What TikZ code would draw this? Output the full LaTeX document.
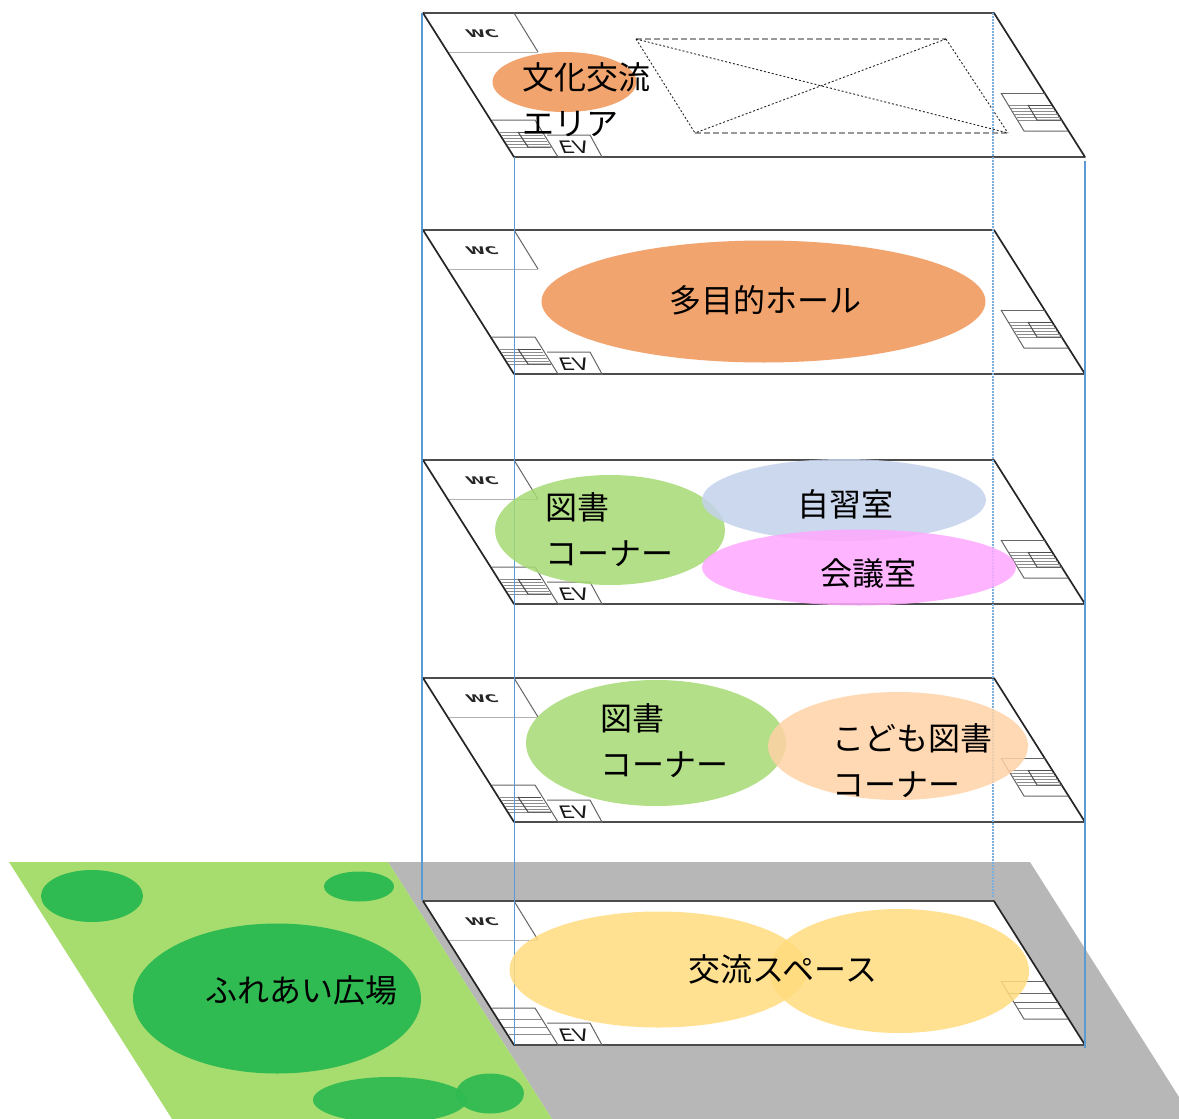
\documentclass[tikz,border=0pt]{standalone}
\usepackage{fontspec}
\setmainfont{Noto Sans CJK JP}
\newfontfamily\latinf{DejaVu Sans}
\definecolor{bluel}{HTML}{5B9BD5}
\definecolor{greyg}{HTML}{B7B7B7}
\definecolor{lawn}{HTML}{A6DD6E}
\definecolor{tree}{HTML}{2FBA52}
\definecolor{orangee}{HTML}{F2A46E}
\definecolor{booke}{HTML}{A5DA72}
\definecolor{studye}{HTML}{C4D2EC}
\definecolor{meete}{HTML}{FFA8FF}
\definecolor{kide}{HTML}{FFD3A6}
\definecolor{yele}{HTML}{FFDC7E}
\tikzset{
  x=1pt,y=-1pt,
  slab/.style={fill=white,draw=none},
  edgeh/.style={draw=black!70,line width=1.4pt},
  edges/.style={draw=black!85,line width=1.7pt,line cap=round},
  thin box/.style={draw=black!60,line width=1pt},
  hatch/.style={draw=black!45,line width=1pt},
  hatchd/.style={draw=black!70,line width=1pt},
  riser/.style={draw=bluel,line width=1.2pt},
  riserd/.style={draw=bluel!80,line width=1.2pt,dash pattern=on 1.5pt off 1.5pt},
  voidh/.style={draw=black!40,line width=1.1pt,dash pattern=on 6pt off 3pt},
  voids/.style={draw=black!85,line width=.9pt,dash pattern=on 2pt off 2pt},
  zone/.style={draw=none,fill=#1,fill opacity=.85},
  zoneo/.style={draw=none,fill=#1},
  label/.style={font=\fontsize{32}{46}\selectfont,text=black,inner sep=0pt,align=left},
  wcl/.style={font=\latinf\bfseries\fontsize{17}{17}\selectfont,inner sep=0pt,xslant=-.55,yscale=.62,text=black!85},
  evl/.style={font=\latinf\fontsize{22}{22}\selectfont,inner sep=0pt,xslant=-.4,yscale=.78,text=black!90},
}
\newcommand{\slabshape}[1]{%
  \begin{scope}[shift={(0,#1)}]
    \fill[slab] (423,0) -- (994,0) -- (1085,144) -- (514,144) -- cycle;
  \end{scope}}
\newcommand{\slabframe}[2]{%
  \begin{scope}[shift={(0,#1)}]
    \draw[edgeh] (423,0) -- (994,0);
    \draw[edgeh] (514,144) -- (1085,144);
    \draw[edges] (423,0) -- (514,144);
    \draw[edges] (994,0) -- (1085,144);
    \draw[thin box] (514,0) -- (538,39);
    \draw[draw=black!30,line width=1pt] (538,39) -- (449,39);
    \node[wcl] (wc#2) at (482,21) {WC};
    \draw[thin box] (492,107) -- (535,107) -- (558,144);
    \draw[thin box] (547,122) -- (590,122) -- (602,144) -- (558,144);
    \node[evl] (ev#2) at (574,134) {EV};
    \draw[thin box] (1001,80) -- (1045,80);
    \draw[thin box] (1001,80) -- (1024,118) -- (1068,118);
  \end{scope}}
\newcommand{\hatches}[1]{%
  \begin{scope}[shift={(0,#1)}]
    \foreach \yy/\xa/\xb in {119/499/541,122/501/543,125/503/545,128/505/547,131/507/549,134/509/551}
      \draw[hatch] (\xa,\yy) -- (\xb,\yy);
    \draw[hatchd] (518,119) -- (528,134) -- (551,134);
    \draw[hatchd] (518,119) -- (541,119);
    \foreach \yy/\xa/\xb in {92/1009/1052,95/1011/1054,98/1013/1056,101/1015/1058,104/1017/1060,107/1018/1062}
      \draw[hatch] (\xa,\yy) -- (\xb,\yy);
    \draw[hatchd] (1028,92) -- (1037,107) -- (1062,107);
    \draw[hatchd] (1028,92) -- (1052,92);
  \end{scope}}
\begin{document}
\begin{tikzpicture}
\useasboundingbox (0,0) rectangle (1179,1119);
% ground
\fill[greyg] (388,862) -- (1030,862) -- (1179,1097) -- (1179,1119) -- (552,1119) -- cycle;
\fill[lawn] (9,862) -- (388,862) -- (552,1119) -- (172,1119) -- cycle;
\begin{scope}
\clip (0,0) rectangle (1179,1119);
\fill[tree] (92,896) ellipse [x radius=51,y radius=26];
\fill[tree] (359,886.5) ellipse [x radius=35,y radius=15];
\fill[tree] (277,998.5) ellipse [x radius=144,y radius=75];
\fill[tree,fill opacity=.93] (390,1100) ellipse [x radius=77,y radius=23];
\fill[tree,fill opacity=.93] (490,1093.5) ellipse [x radius=34,y radius=20];
\end{scope}
% slabs
\slabshape{13}\slabshape{230}\slabshape{460}\slabshape{678}\slabshape{901}
\slabframe{13}{e}\slabframe{230}{d}\slabframe{460}{c}\slabframe{678}{b}\slabframe{901}{a}
\hatches{13}\hatches{230}\hatches{460}\hatches{678}
% ground floor stairs
\draw[hatch] (499,1019) -- (542,1019);
\draw[hatch] (504,1027) -- (547,1027);
\draw[hatch] (509,1034) -- (552,1034);
\draw[thin box] (1008,993) -- (1052,993);
\draw[thin box] (1014,1002) -- (1058,1002);
\draw[hatch] (1018,1008) -- (1062,1008);
% void
\draw[voidh] (636,39) -- (946,39);
\draw[voidh] (695,133) -- (1008,133);
\draw[voids] (636,39) -- (695,133);
\draw[voids] (946,39) -- (1008,133);
\draw[voids] (636,39) -- (1008,133);
\draw[voids] (946,39) -- (695,133);
% vertical lines
\draw[riser] (422,13) -- (422,900);
\draw[riser] (514.5,157) -- (514.5,1045);
\draw[riserd] (993,13) -- (993,897);
\draw[riser] (1085,161) -- (1085,1048);
% zones
\fill[zoneo=orangee] (564.5,82) ellipse [x radius=72,y radius=30];
\fill[zoneo=orangee] (763.5,301.5) ellipse [x radius=222,y radius=61];
\fill[zone=booke] (610,530) ellipse [x radius=115,y radius=55];
\fill[zone=studye] (844,500) ellipse [x radius=142,y radius=41];
\fill[zone=meete] (859,567.5) ellipse [x radius=157,y radius=38];
\fill[zone=booke] (656,743) ellipse [x radius=130,y radius=63];
\fill[zone=kide] (898,746) ellipse [x radius=130,y radius=54];
\fill[zone=yele] (658.5,969.5) ellipse [x radius=149,y radius=58];
\fill[zone=yele] (899,971) ellipse [x radius=130,y radius=62];
% labels
\node[label,anchor=west] (t1) at (522,100) {文化交流\\エリア};
\node[label] (t2) at (765.5,300) {多目的ホール};
\node[label,anchor=west] (t3) at (545,530) {図書\\コーナー};
\node[label] (t4) at (845.5,504.5) {自習室};
\node[label] (t5) at (868,573) {会議室};
\node[label,anchor=west] (t6) at (600,741) {図書\\コーナー};
\node[label,anchor=west] (t7) at (832.5,761) {こども図書\\コーナー};
\node[label] (t8) at (783,969) {交流スペース};
\node[label] (t9) at (301,990) {ふれあい広場};
\end{tikzpicture}
\end{document}
